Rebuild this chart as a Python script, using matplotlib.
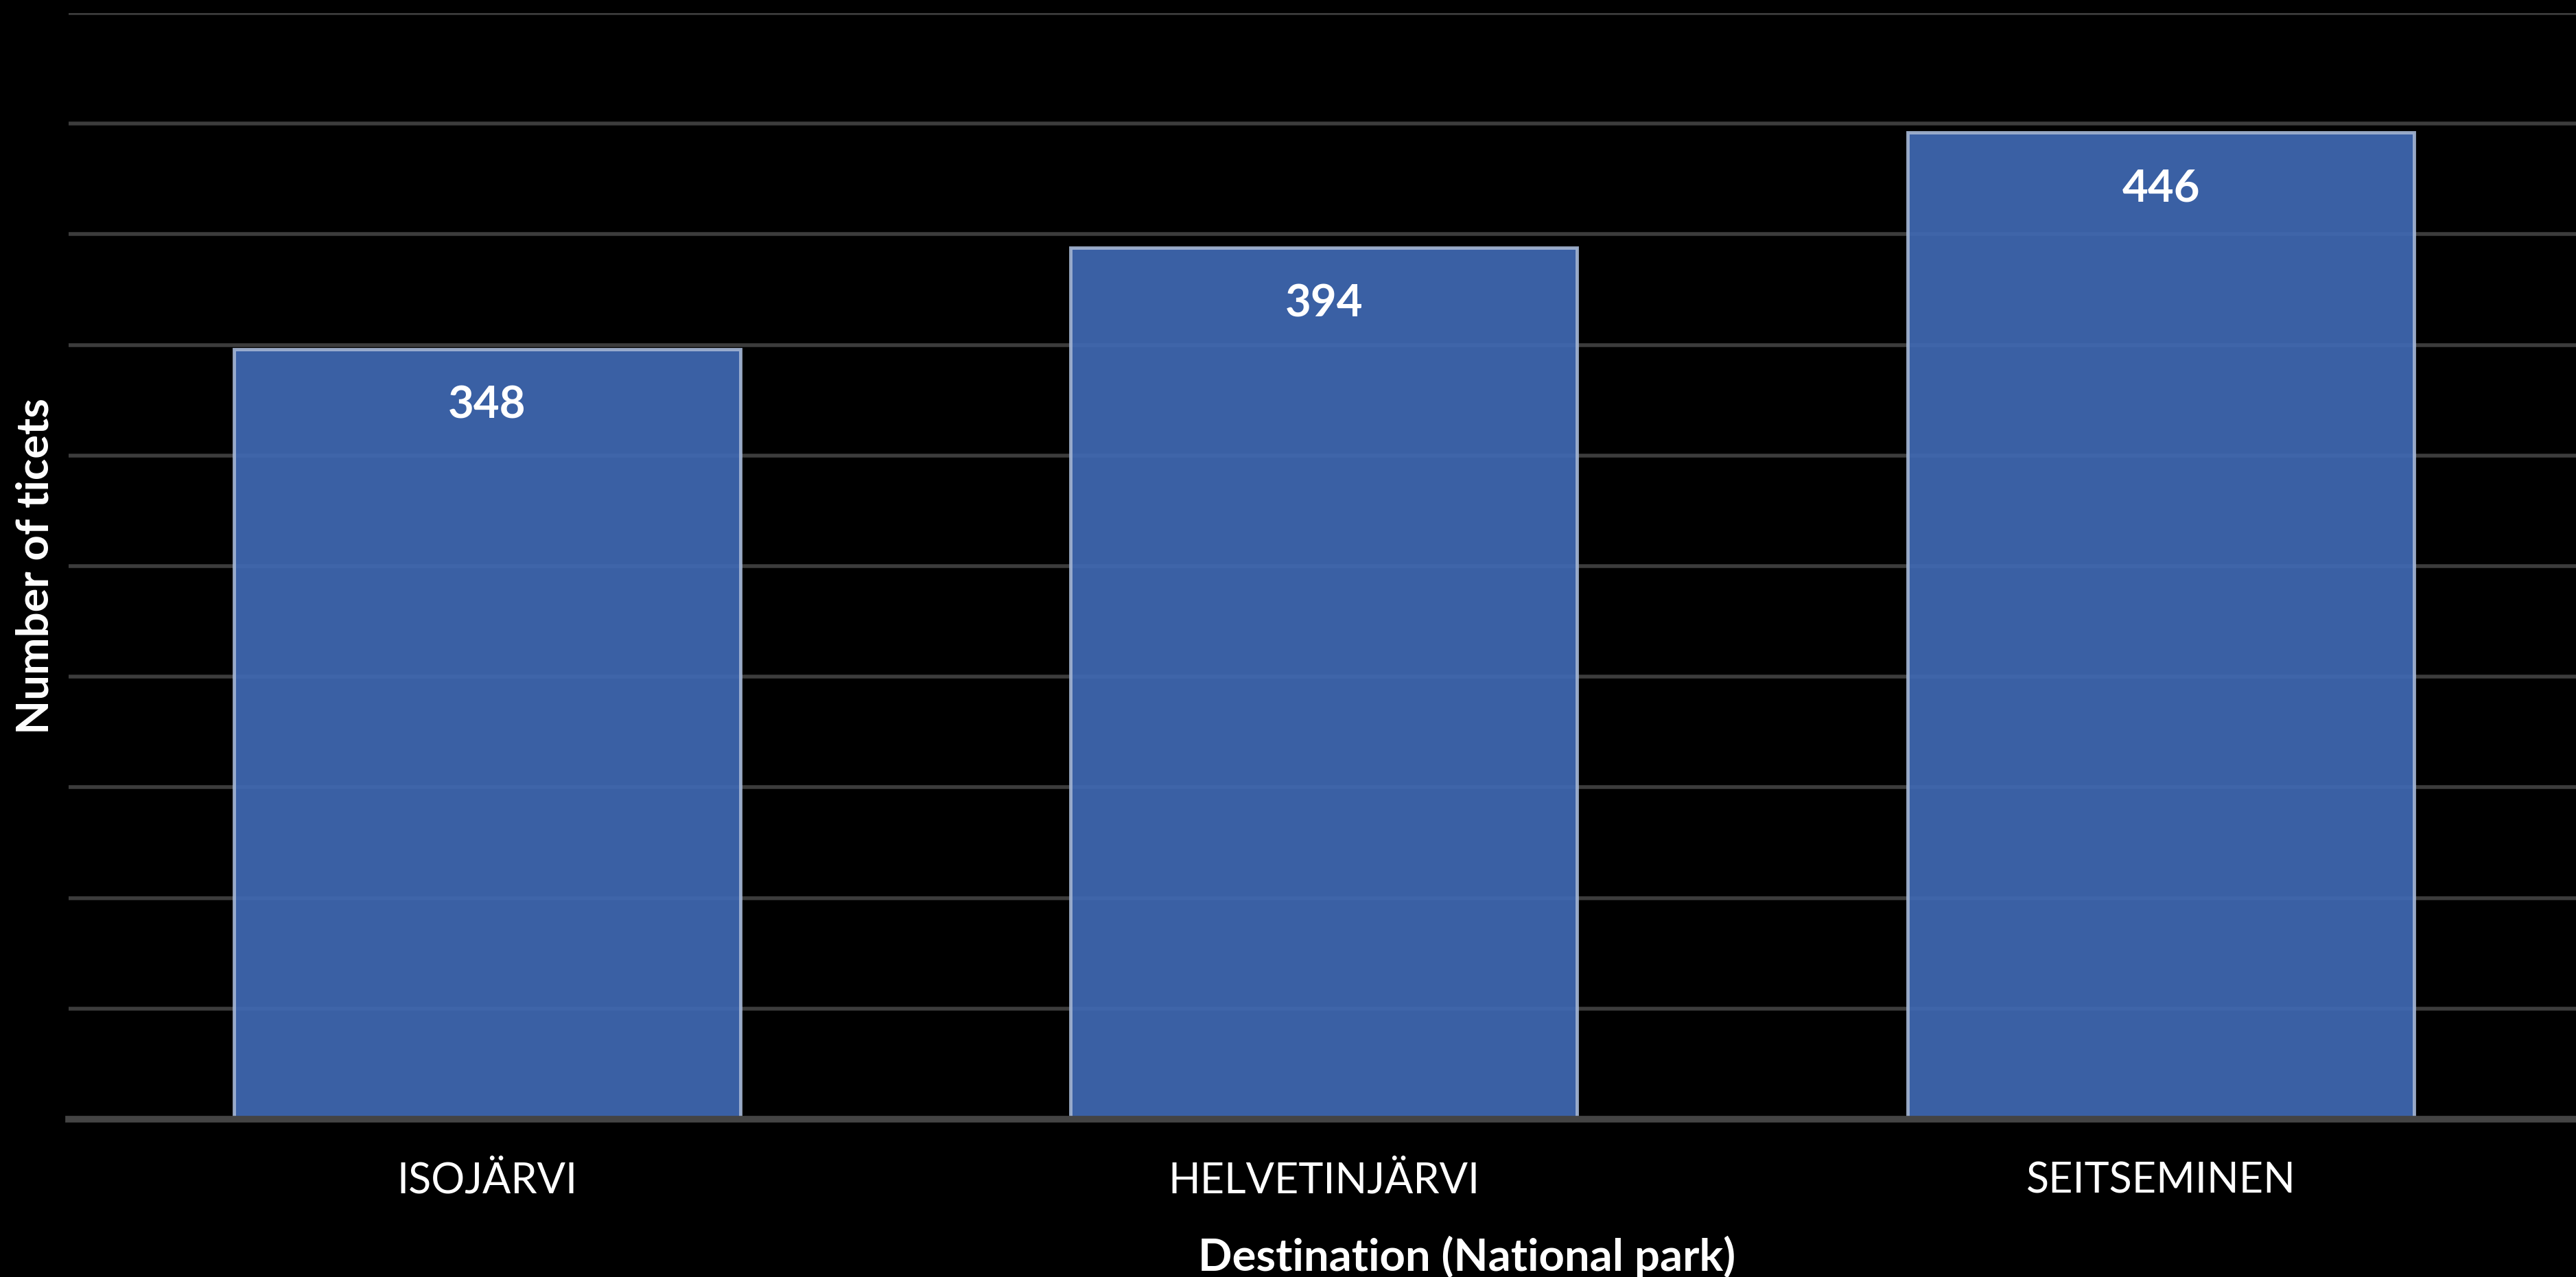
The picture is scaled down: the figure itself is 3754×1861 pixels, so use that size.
import matplotlib
matplotlib.use("Agg")
import matplotlib.pyplot as plt
from matplotlib.ticker import MultipleLocator

# Ticket counts per destination
parks = ["ISOJÄRVI", "HELVETINJÄRVI", "SEITSEMINEN"]
tickets = [348, 394, 446]

plt.rcParams["font.family"] = ["Lato", "DejaVu Sans"]

fig = plt.figure(figsize=(37.54, 18.61), dpi=100, facecolor="black")
ax = fig.add_axes([0.0266, 0.1236, 0.9747, 0.8662], facecolor="black")

x = range(len(parks))
ax.set_xlim(-0.5, len(parks) - 0.5)
ax.set_ylim(0, 500)

# horizontal gridlines every 50 tickets
ax.yaxis.set_major_locator(MultipleLocator(50))
ax.grid(axis="y", color="#3c3c3c", linewidth=4, zorder=1)
ax.set_axisbelow(True)

bars = ax.bar(x, tickets, width=0.605, color="#4069B3", alpha=0.92,
              edgecolor="#A3B4D2", linewidth=3.5, zorder=2)

for xi, v in zip(x, tickets):
    ax.annotate(f"{v}", xy=(xi, v), xytext=(0, -59), textcoords="offset points",
                ha="center", va="center", color="white", fontsize=47,
                fontweight="bold", zorder=4)

for side in ["top", "left", "right"]:
    ax.spines[side].set_visible(False)
ax.spines["bottom"].set_color("#444444")
ax.spines["bottom"].set_linewidth(7)
ax.spines["bottom"].set_zorder(5)

ax.set_xticks(list(x))
ax.set_xticklabels(parks, color="white", fontsize=44)
ax.tick_params(axis="x", length=0, pad=44)
ax.tick_params(axis="y", length=0, labelleft=False)

ax.set_xlabel("Destination (National park)", color="white", fontsize=47,
              fontweight="bold")
ax.xaxis.set_label_coords(0.557, -0.1055)
ax.set_ylabel("Number of ticets", color="white", fontsize=47, fontweight="bold")
ax.yaxis.set_label_coords(-0.005, 0.5)

fig.savefig("out.png", dpi=100, facecolor="black")
